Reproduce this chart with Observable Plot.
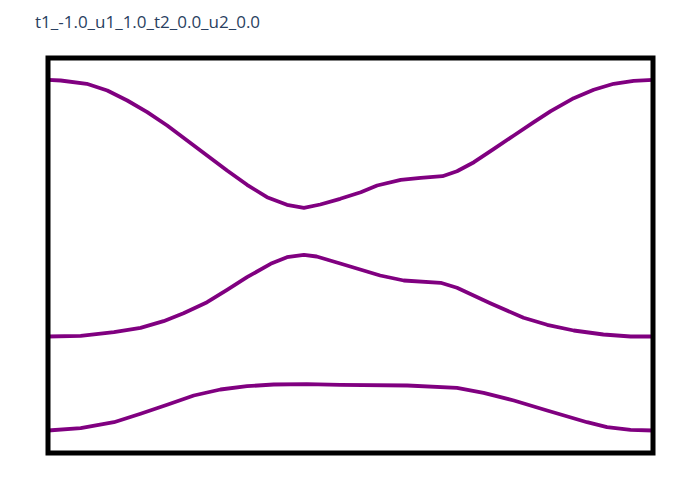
<!DOCTYPE html>
<html>
<head>
<meta charset="utf-8">
<script src="https://cdn.jsdelivr.net/npm/d3@7"></script>
<script src="https://cdn.jsdelivr.net/npm/@observablehq/plot@0.6"></script>
<style>
  html, body { margin: 0; padding: 0; background: #fff; }
  #wrap { position: relative; width: 700px; height: 500px; }
  #title { position: absolute; left: 35px; top: 10px; font-family: "Open Sans", sans-serif; font-size: 17px; color: #2a3f5f; white-space: nowrap; }
  #chart { position: absolute; left: 0; top: 0; }
</style>
</head>
<body>
<div id="wrap">
  <div id="chart"></div>
  <div id="title">t1_-1.0_u1_1.0_t2_0.0_u2_0.0</div>
</div>
<script>
// Path coordinate (0..100) and energies for three bands
const upperK = [0, 2.1, 6.4, 9.8, 13.1, 16.4, 19.7, 23.0, 26.3, 29.6, 32.9, 36.2, 39.5, 42.3, 45.0, 48.3, 51.7, 54.4, 58.3, 61.6, 65.2, 67.6, 70.4, 73.7, 77.0, 80.3, 83.1, 86.9, 90.2, 93.5, 96.8, 100];
const upperE = [2.257, 2.25, 2.217, 2.15, 2.05, 1.933, 1.80, 1.65, 1.50, 1.35, 1.207, 1.083, 1.007, 0.977, 1.01, 1.067, 1.133, 1.20, 1.257, 1.277, 1.293, 1.343, 1.433, 1.567, 1.70, 1.833, 1.943, 2.073, 2.157, 2.217, 2.247, 2.257];

const middleK = [0, 5.4, 10.9, 15.3, 19.1, 22.4, 26.3, 29.6, 32.9, 36.8, 39.5, 42.3, 44.4, 48.3, 54.9, 58.8, 64.9, 67.6, 73.1, 78.6, 82.5, 86.9, 91.8, 96.3, 100];
const middleE = [-0.31, -0.303, -0.267, -0.223, -0.157, -0.077, 0.033, 0.157, 0.283, 0.417, 0.483, 0.507, 0.49, 0.42, 0.30, 0.25, 0.227, 0.177, 0.023, -0.123, -0.193, -0.25, -0.29, -0.31, -0.31];

const lowerK = [0, 5.4, 10.9, 15.3, 19.7, 24.1, 28.5, 32.9, 37.3, 42.8, 48.3, 59.4, 67.6, 72.0, 77.0, 82.5, 89.1, 92.4, 96.3, 100];
const lowerE = [-1.25, -1.227, -1.167, -1.083, -0.993, -0.90, -0.84, -0.807, -0.79, -0.787, -0.793, -0.80, -0.823, -0.873, -0.95, -1.05, -1.167, -1.217, -1.243, -1.25];

const bands = [
  {name: "upper", k: upperK, e: upperE},
  {name: "middle", k: middleK, e: middleE},
  {name: "lower", k: lowerK, e: lowerE}
];
const rows = bands.flatMap(b => b.k.map((k, i) => ({band: b.name, k, e: b.e[i]})));

const chart = Plot.plot({
  width: 700,
  height: 500,
  marginLeft: 47.5,
  marginRight: 47.5,
  marginTop: 57.5,
  marginBottom: 47.5,
  x: {domain: [0, 100], axis: null},
  y: {domain: [-1.475, 2.475], axis: null},
  marks: [
    Plot.line(rows, {x: "k", y: "e", z: "band", stroke: "#800080", strokeWidth: 3.8, strokeLinejoin: "round"}),
    Plot.frame({stroke: "black", strokeWidth: 5})
  ]
});
document.getElementById("chart").appendChild(chart);
</script>
</body>
</html>
